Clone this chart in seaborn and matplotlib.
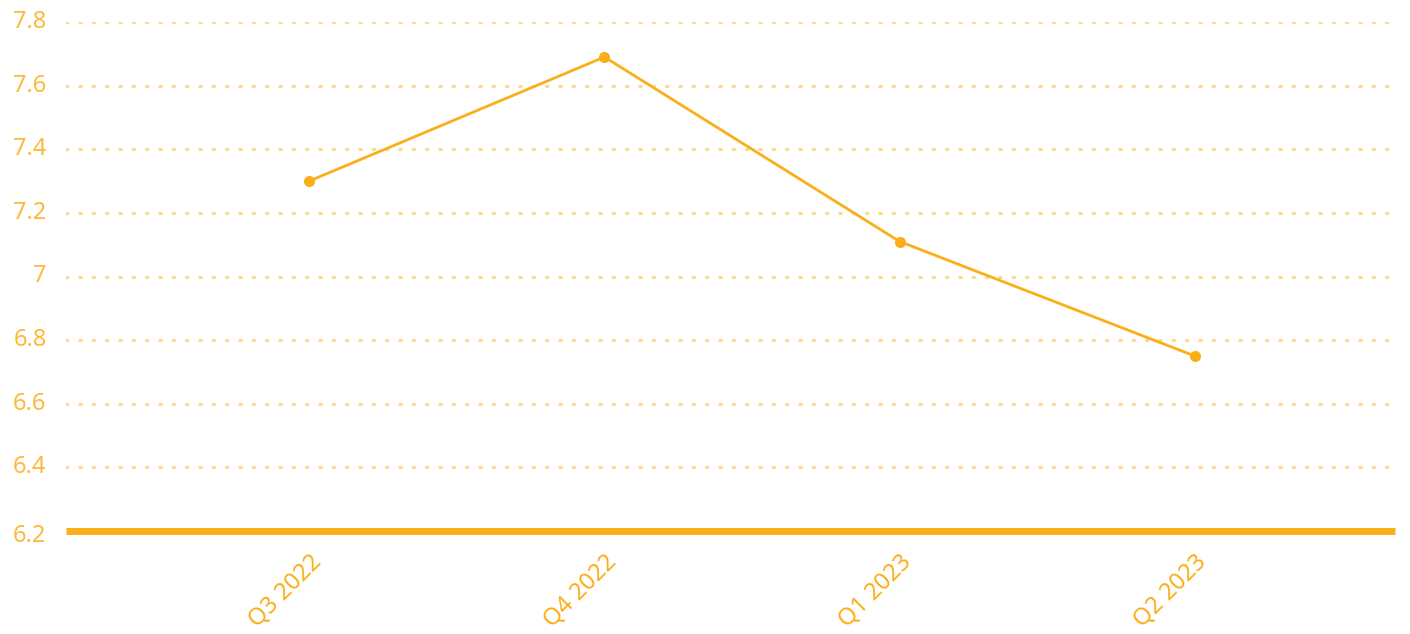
import matplotlib
matplotlib.use("Agg")
import matplotlib.pyplot as plt
import matplotlib.transforms as mtransforms
import seaborn as sns
import pandas as pd

# data
quarters = ["Q3 2022", "Q4 2022", "Q1 2023", "Q2 2023"]
values = [7.30, 7.69, 7.11, 6.75]
y_ticks = [6.2, 6.4, 6.6, 6.8, 7.0, 7.2, 7.4, 7.6, 7.8]
y_labels = ["6.2", "6.4", "6.6", "6.8", "7", "7.2", "7.4", "7.6", "7.8"]

orange = "#FAAF19"
label_orange = "#FDB93A"
grid_orange = "#FDD998"

sns.set_theme(style="white")
plt.rcParams["font.family"] = ["Noto Sans", "DejaVu Sans"]

df = pd.DataFrame({"quarter": quarters, "value": values})
df["pos"] = range(len(df))

fig = plt.figure(figsize=(14.1, 6.34), dpi=100)
ax = fig.add_axes([66 / 1410, 103 / 634, 1329 / 1410, 509 / 634])

# dotted gridlines
for t in y_ticks[1:]:
    ax.axhline(t, color=grid_orange, lw=2.4, ls=(0, (0.4, 3.6)),
               dash_capstyle="round", zorder=0)

sns.lineplot(data=df, x="pos", y="value", color=orange, lw=2, marker="o",
             markersize=8, markeredgewidth=0, ax=ax, zorder=3)

ax.set_xlim(-0.824, 3.678)
ax.set_ylim(6.2, 7.8)
ax.axhline(6.2, color=orange, lw=5, zorder=2, clip_on=False,
           solid_capstyle="butt")

ax.set_yticks(y_ticks)
ax.set_yticklabels(y_labels)
ax.set_xticks(df["pos"])
ax.set_xticklabels(quarters)
ax.set_xlabel("")
ax.set_ylabel("")

for s in ax.spines.values():
    s.set_visible(False)
ax.tick_params(axis="both", length=0, labelsize=17, labelcolor=label_orange)
ax.tick_params(axis="y", pad=14)
for lbl in ax.get_yticklabels():
    lbl.set_va("center")
# the bottom label sits a little under the baseline
ax.get_yticklabels()[0].set_transform(
    ax.get_yticklabels()[0].get_transform()
    + mtransforms.ScaledTranslation(0, -5 / 100, fig.dpi_scale_trans))
for lbl in ax.get_xticklabels():
    lbl.set_rotation(45)
    lbl.set_ha("right")
    lbl.set_va("top")
    lbl.set_rotation_mode("anchor")
    lbl.set_color(orange)
ax.tick_params(axis="x", pad=14)

fig.savefig("out.png", dpi=100, facecolor="white")
